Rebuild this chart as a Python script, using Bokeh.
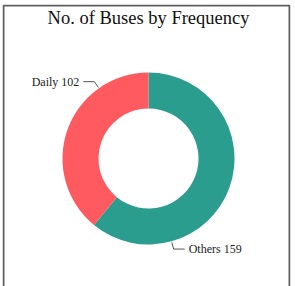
import math
from bokeh.plotting import figure
from bokeh.models import Range1d, ColumnDataSource
from bokeh.core.properties import value
from bokeh.embed import file_html
from bokeh.resources import INLINE

# ---- data ----
title_text = "No. of Buses by Frequency"
categories = ["Others", "Daily"]   # drawn clockwise from 12 o'clock
counts = [159, 102]
colors = ["#2A9D8F", "#FF5A5F"]

# ---- layout constants (pixels) ----
W, H = 292, 286
BL, BT, BR = 2, 4, 2
FW, FH = W - BL - BR, H - BT
CX, CY = 146, 154          # donut centre within frame (from left / top)
outer_r, inner_r = 86, 50
elbow_r, start_r = 94, 87
hseg, text_gap = 11, 4
FONT = "Liberation Serif"

p = figure(width=W, height=H, output_backend="svg", toolbar_location=None,
           x_range=Range1d(-CX, FW - CX), y_range=Range1d(-(FH - CY), CY),
           min_border_left=BL, min_border_top=BT, min_border_right=BR,
           min_border_bottom=0)
p.axis.visible = False
p.grid.visible = False
p.outline_line_color = None
p.background_fill_color = "white"
p.border_fill_color = "white"

# open box (left, top, right) like the reference
xl, xr = -CX + 1, FW - CX - 1
yt, yb = CY - 1, -(FH - CY) - 5
p.multi_line(xs=[[xl, xl, xr, xr]], ys=[[yb, yt, yt, yb]],
             line_color="#5f5f5f", line_width=2)

total = sum(counts)
starts, ends = [], []
cum = 0.0
for c in counts:
    frac = c / total
    end = math.pi / 2 - cum * 2 * math.pi
    start = end - frac * 2 * math.pi
    starts.append(start)
    ends.append(end)
    cum += frac

src = ColumnDataSource(dict(cat=categories, count=counts, color=colors,
                            start=starts, end=ends))
p.annular_wedge(x=0, y=0, inner_radius=inner_r, outer_radius=outer_r,
                start_angle="start", end_angle="end", color="color",
                line_color=None, source=src)

# labels with leader lines
lx, ly, tx, ty, txt, aligns = [], [], [], [], [], []
for cat, cnt, s, e in zip(categories, counts, starts, ends):
    a = s + 0.25 * (e - s)
    ca, sa = math.cos(a), math.sin(a)
    x0, y0 = start_r * ca, start_r * sa
    x1, y1 = elbow_r * ca, elbow_r * sa
    side = -1 if ca < 0 else 1
    x2 = x1 + side * hseg
    lx.append([x0, x1, x2])
    ly.append([y0, y1, y1])
    tx.append(x2 + side * text_gap)
    ty.append(y1)
    txt.append(f"{cat} {cnt}")
    aligns.append("right" if side < 0 else "left")

p.multi_line(xs=lx, ys=ly, line_color="#555555", line_width=1)
p.text(x=tx, y=ty, text=txt, text_align=aligns, text_baseline="middle",
       text_font=value(FONT), text_font_size="12px", text_color="#222222")

p.text(x=[0], y=[141], text=[title_text], text_align="center",
       text_baseline="middle", text_font=value(FONT), text_font_size="18.5px",
       text_color="#111111")

open("out.html", "w").write(file_html(p, INLINE))
